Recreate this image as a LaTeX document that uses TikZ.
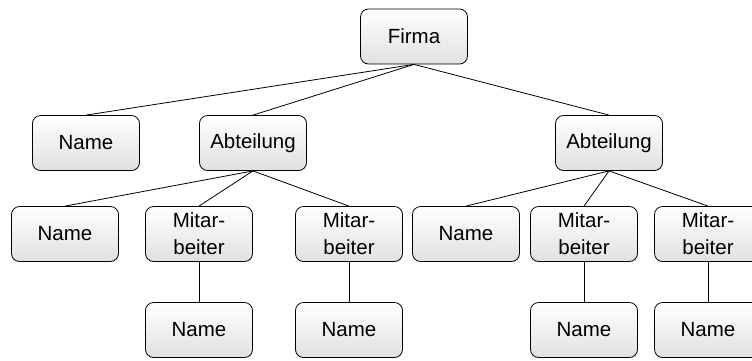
\documentclass[tikz,border=0pt]{standalone}
\usepackage{fontspec}
\setmainfont{Liberation Sans}
\begin{document}
\begin{tikzpicture}[x=1pt, y=-1pt, line width=0.8pt,
  box/.style={draw, rectangle, rounded corners=8pt, top color=white, bottom color=black!12,
    minimum width=107pt, minimum height=55pt, inner sep=0pt, align=center,
    font=\fontsize{20.5}{27}\selectfont}]
\useasboundingbox (0,0) rectangle (752,360);
\node[box] (firma) at (414,36.5) {Firma};
\node[box] (name) at (86,143) {Name};
\node[box] (abt1) at (253,143) {Abteilung};
\node[box] (abt2) at (609,143) {Abteilung};
\node[box] (name1) at (65,234) {Name};
\node[box] (mit11) at (199,234) {Mitar-\\beiter};
\node[box] (mit12) at (349,234) {Mitar-\\beiter};
\node[box] (name2) at (466,234) {Name};
\node[box] (mit21) at (584,234) {Mitar-\\beiter};
\node[box] (mit22) at (708,234) {Mitar-\\beiter};
\node[box] (name11) at (199,330) {Name};
\node[box] (name12) at (349,330) {Name};
\node[box] (name21) at (584,330) {Name};
\node[box] (name22) at (708,330) {Name};
\draw (firma.south) -- (name.north);
\draw (firma.south) -- (abt1.north);
\draw (firma.south) -- (abt2.north);
\draw (abt1.south) -- (name1.north);
\draw (abt1.south) -- (mit11.north);
\draw (abt1.south) -- (mit12.north);
\draw (abt2.south) -- (name2.north);
\draw (abt2.south) -- (mit21.north);
\draw (abt2.south) -- (mit22.north);
\draw (mit11) -- (name11);
\draw (mit12) -- (name12);
\draw (mit21) -- (name21);
\draw (mit22) -- (name22);
\end{tikzpicture}
\end{document}
